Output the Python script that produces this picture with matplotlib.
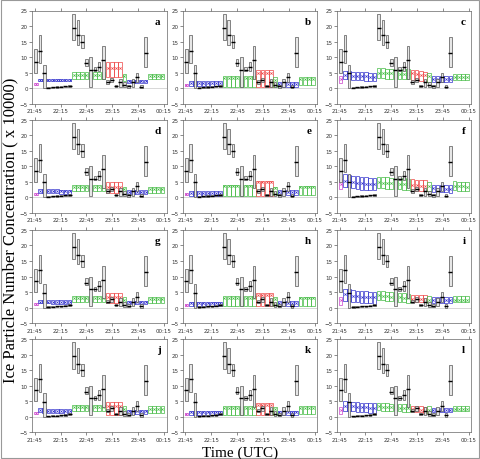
import matplotlib
matplotlib.use("Agg")
import matplotlib.pyplot as plt
from matplotlib.patches import Rectangle

# time of each sample, minutes after 21:45
times = [1.2, 6.1, 11.0, 15.9, 20.8, 25.7, 30.6, 35.5, 40.4, 45.3, 50.2, 55.1, 60.0, 64.9,
         69.8, 74.7, 79.6, 84.5, 89.4, 94.3, 99.2, 104.1, 109.0, 113.9, 118.8, 123.7,
         128.6, 133.5, 138.4, 143.3, 148.2]
tick_pos = [0, 30, 60, 90, 120, 150]
tick_labels = ["21:45", "22:15", "22:45", "23:15", "23:45", "00:15"]

# observations (black boxes), first 27 samples
obs_mid = [8.5, 12, 4.8, 0.2, 0.3, 0.4, 0.5, 0.6, 0.9, 19.5, 17, 15, 8, 6, 6, 7, 9,
           2, 2.7, 0.8, 2, 1, 0.6, 2, 3.5, 0.5, 11.5]
obs_lo = [5, 8, 0, 0, 0.1, 0.2, 0.3, 0.4, 0.5, 15.5, 14, 13, 7.3, 0.5, 5.5, 5.5, 3,
          1.5, 2, 0.5, 0.5, 0.3, 0.2, 0.5, 2, 0, 7]
obs_hi = [12.5, 17, 7.5, 0.4, 0.5, 0.6, 0.7, 0.8, 1.2, 24, 22, 17, 9.5, 10, 6.7, 8.5, 13.5,
          2.6, 3.3, 1.2, 3, 2, 1.2, 3, 5, 1.2, 16.5]

# model groups: colour and number of samples
group_colors = ["#cc44cc", "#3333cc", "#44bb44", "#ee4444", "#44bb44", "#3333cc", "#44bb44"]
group_sizes = [1, 8, 8, 4, 1, 5, 4]

panel_names = ["a", "b", "c", "d", "e", "f", "g", "h", "i", "j", "k", "l"]

mid_a = [1.5] + [2.6] * 8 + [4.2] * 8 + [6.6] * 4 + [3.8] + [2.2] * 5 + [3.8] * 4
mid_b = [1.0] + [1.6] * 8 + [3.3] * 8 + [5.0] * 4 + [2.8] + [1.5] * 5 + [3.0] * 4
mid_c = [3.0, 4.3, 4.2, 4.1, 4.0, 3.9, 3.8, 3.6, 3.5, 4.9, 4.9, 4.8, 4.8, 4.8, 4.7, 4.7, 4.6,
         4.8, 4.6, 4.4, 4.2, 3.8, 3.1, 3.0, 3.0, 3.0, 2.9, 3.7, 3.6, 3.6, 3.6]
mid_d = [1.2, 2.1, 2.1, 2.0, 2.0, 2.0, 1.9, 1.9, 1.9] + [3.2] * 8 + [3.4] * 4 + [2.6] + [1.8] * 5 + [2.8] * 4
mid_e = [1.0] + [1.4] * 8 + [3.5] * 8 + [4.8] * 4 + [3.0] + [1.6] * 5 + [3.3] * 4
mid_f = [4.2, 5.4, 5.2, 4.9, 4.7, 4.5, 4.4, 4.3, 4.2, 4.8, 4.7, 4.6, 4.5, 4.5, 4.4, 4.3, 4.2,
         4.0, 3.9, 3.8, 3.7, 3.5, 2.9, 2.8, 2.8, 2.8, 2.7, 3.6, 3.5, 3.5, 3.4]
mid_g = [1.2, 2.0, 2.0, 2.0, 1.9, 1.9, 1.9, 1.8, 1.8] + [3.1] * 8 + [3.3] * 4 + [2.5] + [1.8] * 5 + [2.7] * 4
mid_h = [1.0] + [1.4] * 8 + [3.2] * 8 + [4.2] * 4 + [2.8] + [1.5] * 5 + [3.0] * 4
mid_i = [2.5, 4.3, 4.1, 3.9, 3.7, 3.6, 3.5, 3.4, 3.3, 4.0, 3.9, 3.7, 3.6, 3.5, 3.3, 3.2, 3.0,
         2.9, 2.8, 2.8, 2.7, 2.6, 2.4, 2.4, 2.4, 2.4, 2.4, 2.6, 2.6, 2.6, 2.6]
mid_j = [1.2, 2.2, 2.1, 2.0, 2.0, 1.9, 1.9, 1.8, 1.8] + [3.0] * 8 + [3.5] * 4 + [2.5] + [1.8] * 5 + [2.6] * 4
mid_k = [1.0] + [1.4] * 8 + [2.9] * 8 + [3.8] * 4 + [2.6] + [1.4] * 5 + [2.8] * 4
mid_l = [2.2, 3.6, 3.4, 3.3, 3.2, 3.1, 3.0, 2.9, 2.9, 3.3, 3.2, 3.1, 3.0, 3.0, 2.9, 2.8, 2.8,
         2.4, 2.3, 2.3, 2.2, 2.3, 2.1, 2.1, 2.1, 2.1, 2.1, 2.4, 2.4, 2.4, 2.4]
mids = [mid_a, mid_b, mid_c, mid_d, mid_e, mid_f, mid_g, mid_h, mid_i, mid_j, mid_k, mid_l]

# spread below / above the model value, per group
lo_offs = [[0.3, 0.4, 1.2, 3.0, 1.3, 0.4, 0.8],
           [0.3, 0.9, 3.0, 4.5, 2.5, 1.0, 2.0],
           [1.2, 1.3, 1.7, 2.0, 1.8, 1.0, 1.0],
           [0.3, 0.7, 1.2, 2.0, 1.5, 0.7, 1.3],
           [0.3, 1.1, 3.0, 4.3, 2.3, 0.9, 2.6],
           [1.6, 2.0, 1.8, 1.8, 1.5, 1.2, 1.4],
           [0.3, 0.6, 1.1, 1.8, 1.4, 0.6, 1.2],
           [0.3, 1.0, 2.7, 3.7, 2.2, 0.9, 2.3],
           [1.5, 2.0, 1.5, 1.0, 1.1, 0.8, 0.8],
           [0.2, 0.8, 1.0, 3.0, 1.5, 0.8, 1.4],
           [0.3, 0.9, 2.4, 3.3, 2.0, 0.8, 2.0],
           [1.2, 1.6, 1.2, 0.9, 1.0, 0.7, 0.7]]
hi_offs = [[0.3, 0.4, 1.0, 1.9, 0.7, 0.4, 0.8],
           [0.3, 0.6, 0.5, 0.8, 0.7, 0.6, 0.5],
           [1.0, 1.3, 1.5, 1.2, 1.0, 1.0, 1.0],
           [0.3, 0.6, 0.8, 1.5, 0.8, 0.5, 0.6],
           [0.3, 0.7, 0.5, 0.6, 0.4, 0.7, 0.4],
           [1.6, 2.0, 1.8, 1.8, 1.5, 1.2, 1.5],
           [0.3, 0.6, 0.8, 1.3, 0.8, 0.5, 0.6],
           [0.3, 0.6, 0.5, 0.6, 0.5, 0.6, 0.4],
           [1.1, 1.8, 1.4, 1.3, 1.2, 1.0, 1.1],
           [0.3, 0.6, 0.8, 1.3, 1.0, 0.5, 0.7],
           [0.3, 0.6, 0.6, 0.7, 0.6, 0.6, 0.5],
           [1.0, 1.4, 1.2, 1.0, 1.0, 0.8, 0.9]]

serif = "Liberation Serif"

fig = plt.figure(figsize=(4.8, 4.6), dpi=100)
lefts = [0.067, 0.381, 0.702]
bottoms = [0.772, 0.535, 0.295, 0.058]
w, h = 0.28, 0.203

for p, name in enumerate(panel_names):
    ax = fig.add_axes([lefts[p % 3], bottoms[p // 3], w, h])
    ax.axhline(0, color="#c8c8c8", lw=0.5, zorder=0)

    # model boxes
    k = 0
    for g, n in enumerate(group_sizes):
        for _ in range(n):
            m = mids[p][k]
            lo = m - lo_offs[p][g]
            hi = m + hi_offs[p][g]
            ax.bar(times[k], hi - lo, bottom=lo, width=4.2, fill=False,
                   edgecolor=group_colors[g], linewidth=0.5, zorder=2)
            ax.plot(times[k], m, marker="x", ms=1.6, mew=0.5,
                    color=group_colors[g], zorder=3)
            k += 1

    # observations
    for j in range(len(obs_mid)):
        ax.bar(times[j], obs_hi[j] - obs_lo[j], bottom=obs_lo[j], width=3.0,
               facecolor="#e6e6e6", edgecolor="#555555", linewidth=0.5, zorder=4)
        ax.plot(times[j], obs_mid[j], marker="_", ms=2.2, mew=1.0, color="black",
                lw=0, zorder=5)

    ax.set_xlim(-3, 153)
    ax.set_ylim(-5, 25)
    ax.set_xticks(tick_pos)
    ax.set_xticklabels(tick_labels)
    ax.set_yticks([-5, 0, 5, 10, 15, 20, 25])
    ax.tick_params(labelsize=4, length=2, width=0.4, pad=1.2, colors="#333333",
                   top=True, right=False)
    for s in ax.spines.values():
        s.set_linewidth(0.5)
        s.set_color("#666666")
    ax.text(0.955, 0.93, name, transform=ax.transAxes, ha="right", va="top",
            fontsize=8, fontweight="bold", family=serif)

fig.text(0.022, 0.5, "Ice Particle Number Concentration ( x 10000)", rotation=90,
         ha="center", va="center", fontsize=12, family=serif)
fig.text(0.5, 0.001, "Time (UTC)", ha="center", va="bottom", fontsize=11, family=serif)

fig.patches.append(Rectangle((0.003, 0.003), 0.994, 0.994, transform=fig.transFigure,
                             fill=False, edgecolor="#999999", linewidth=0.8))

fig.savefig("out.png", dpi=100)
